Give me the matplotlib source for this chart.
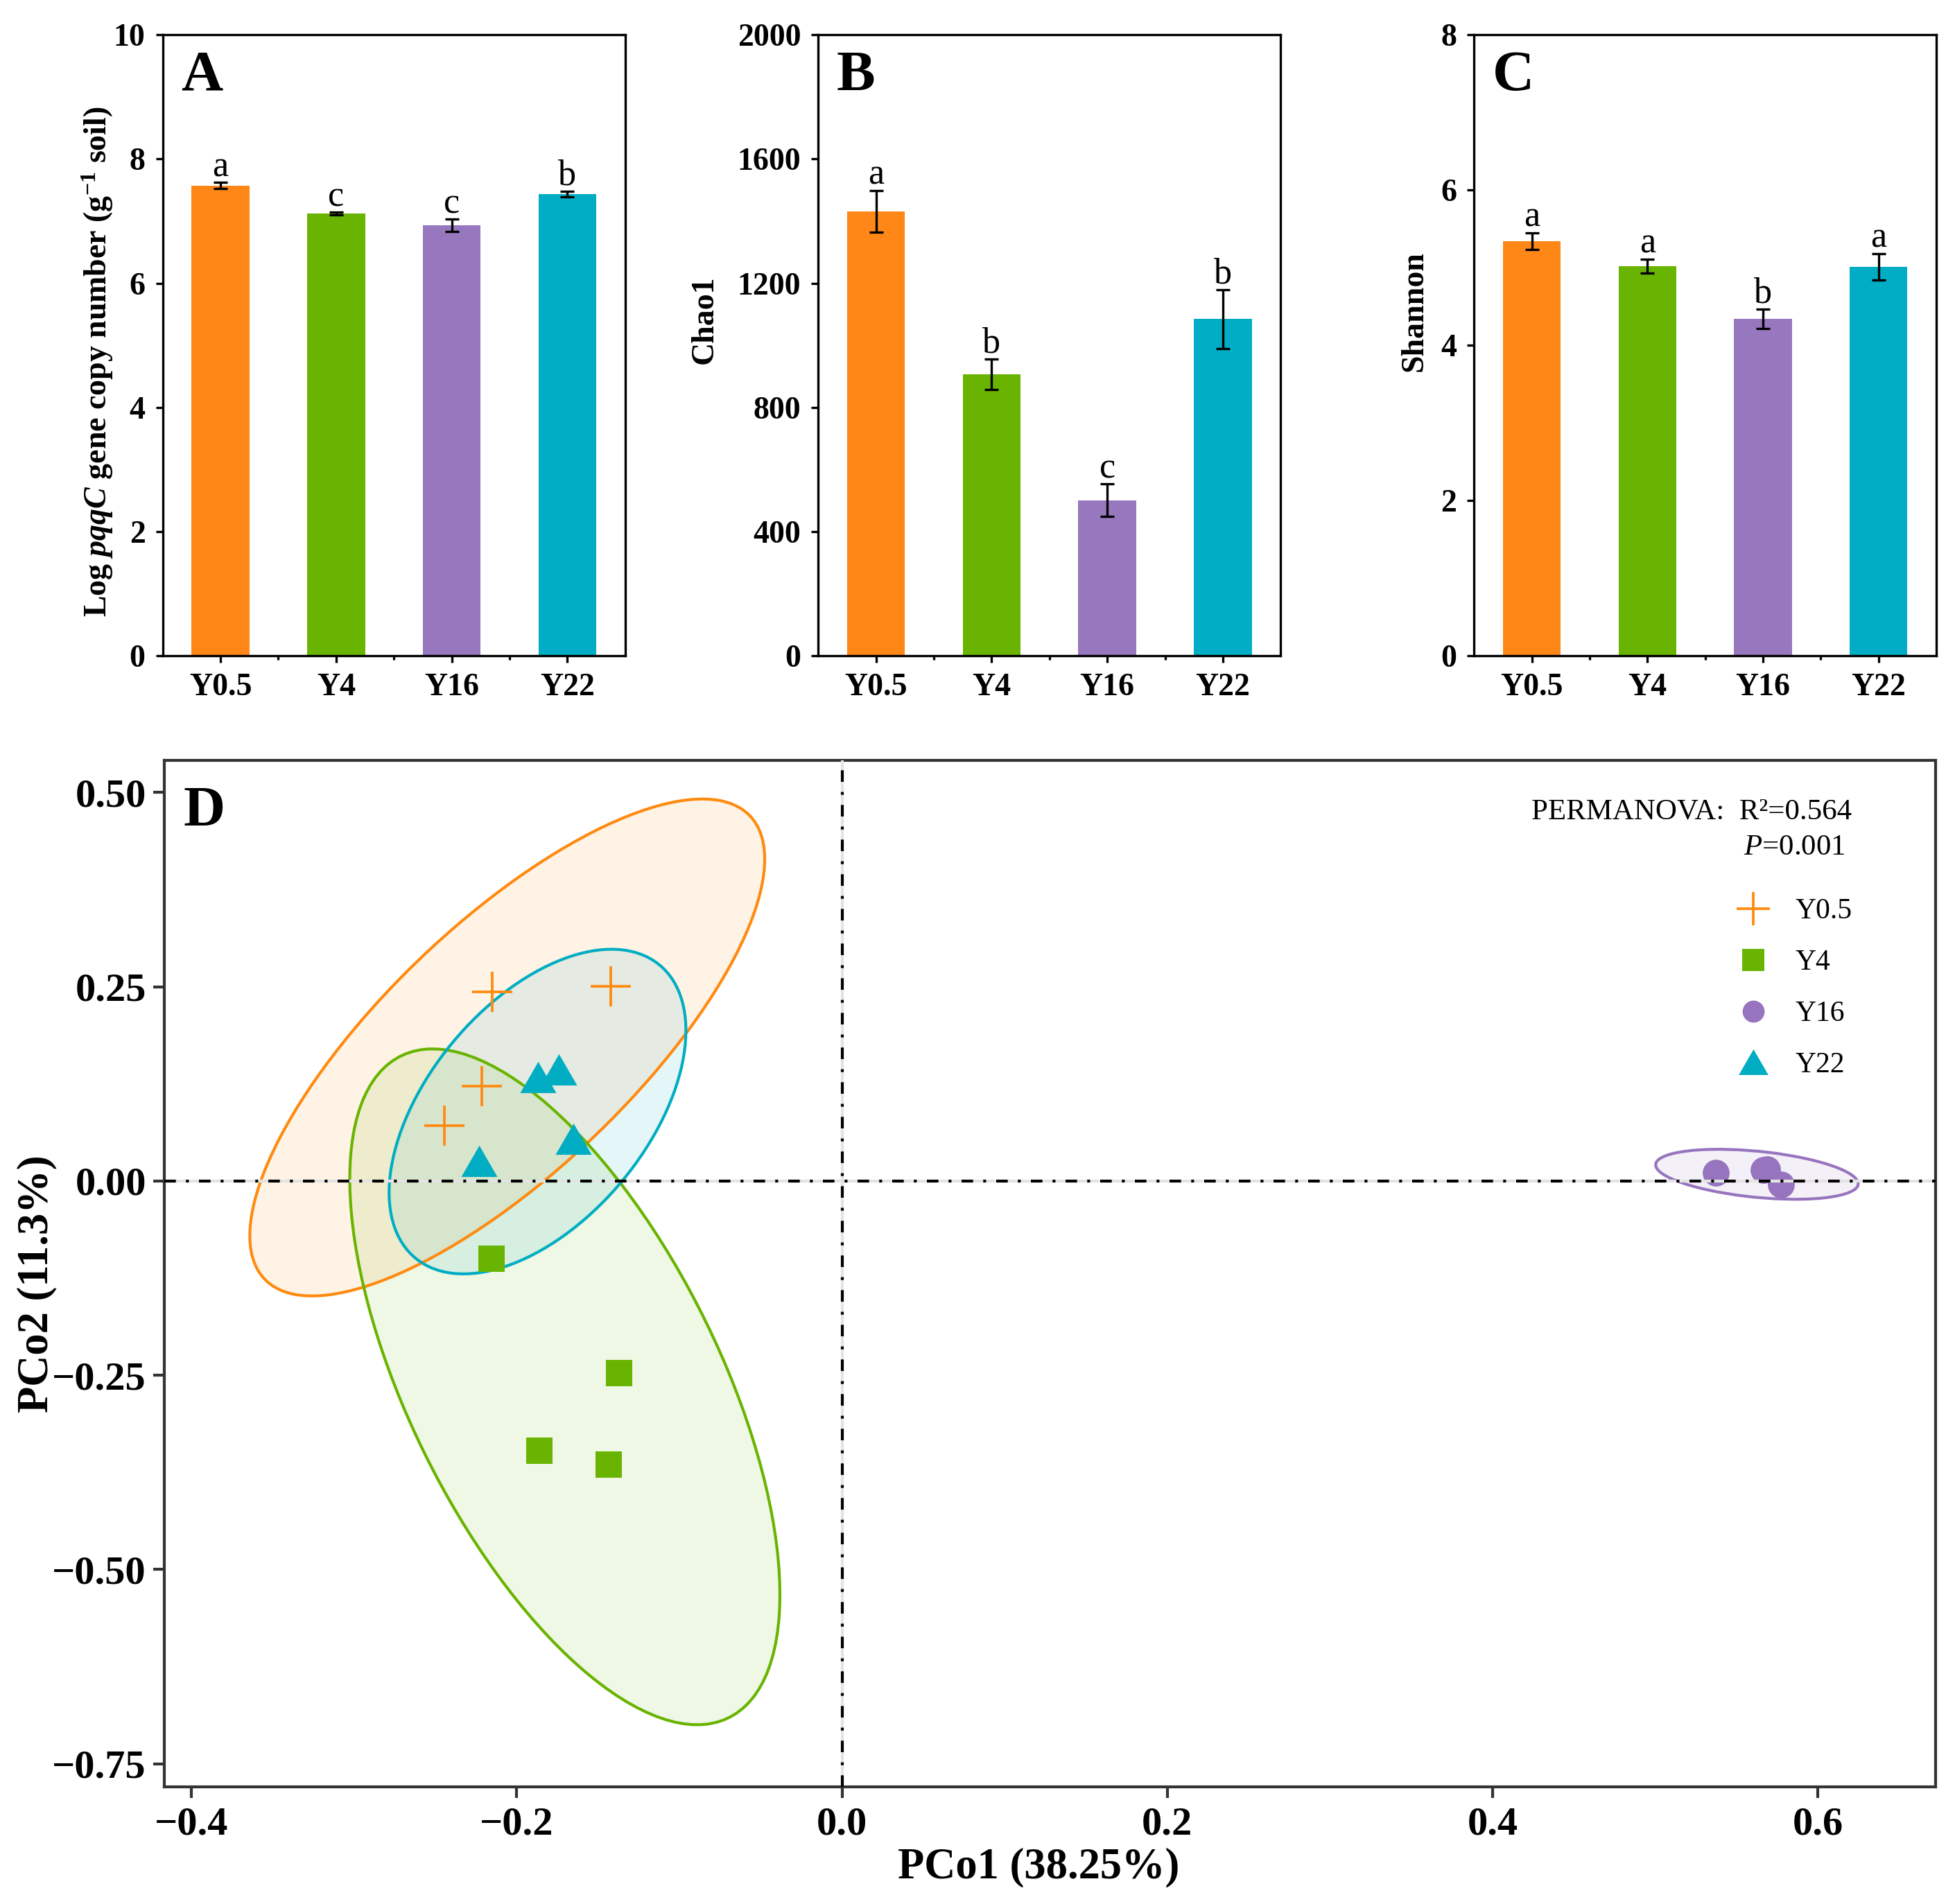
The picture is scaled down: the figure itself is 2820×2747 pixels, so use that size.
import numpy as np
import matplotlib
matplotlib.use("Agg")
import matplotlib.pyplot as plt
from matplotlib.patches import Ellipse
from matplotlib.ticker import FuncFormatter

# Times-like font, also inside math text
plt.rcParams['font.family'] = 'Liberation Serif'
plt.rcParams['mathtext.fontset'] = 'custom'
plt.rcParams['mathtext.rm'] = 'Liberation Serif'
plt.rcParams['mathtext.it'] = 'Liberation Serif:italic'
plt.rcParams['mathtext.bf'] = 'Liberation Serif:bold'
plt.rcParams['mathtext.bfit'] = 'Liberation Serif:bold:italic'

# ------------------------------------------------------------------
# data
# ------------------------------------------------------------------
groups = ['Y0.5', 'Y4', 'Y16', 'Y22']
bar_colors = ['#FF8717', '#69B400', '#9778BF', '#00ADC5']

# A: log pqqC gene copies
pqqc_mean = [7.57, 7.12, 6.93, 7.44]
pqqc_err = [0.05, 0.02, 0.10, 0.045]
pqqc_letters = ['a', 'c', 'c', 'b']

# B: Chao1
chao1_mean = [1432, 907, 501, 1085]
chao1_err = [67, 49, 52, 95]
chao1_letters = ['a', 'b', 'c', 'b']

# C: Shannon
shannon_mean = [5.34, 5.02, 4.34, 5.01]
shannon_err = [0.11, 0.09, 0.125, 0.17]
shannon_letters = ['a', 'a', 'b', 'a']

# D: PCoA scores (PCo1, PCo2) per group
pco1_y05 = [-0.2152, -0.1422, -0.2216, -0.2443]
pco2_y05 = [0.2437, 0.2503, 0.1224, 0.0710]
pco1_y4 = [-0.2153, -0.1372, -0.1859, -0.1433]
pco2_y4 = [-0.1000, -0.2475, -0.3468, -0.3652]
pco1_y16 = [0.5374, 0.5665, 0.5688, 0.5774]
pco2_y16 = [0.0103, 0.0140, 0.0148, -0.0045]
pco1_y22 = [-0.1869, -0.1740, -0.1650, -0.2230]
pco2_y22 = [0.1337, 0.1438, 0.0541, 0.0258]

permanova_r2 = 0.564
permanova_p = 0.001

# ------------------------------------------------------------------
# figure
# ------------------------------------------------------------------
fig = plt.figure(figsize=(9.4, 2747 / 300), dpi=300)


def bar_panel(ax, means, errs, letters, ymax, yticks, ylabel, panel, label_xy):
    x = np.arange(len(groups))
    ax.bar(x, means, width=0.5, color=bar_colors, zorder=2)
    ax.errorbar(x, means, yerr=errs, fmt='none', ecolor='black',
                elinewidth=0.8, capsize=2.5, capthick=0.8, zorder=3)
    # letters over the error bars
    for xi, m, e, l in zip(x, means, errs, letters):
        ax.annotate(l, (xi, m + e), xytext=(0, 2.2), textcoords='offset points',
                    ha='center', va='baseline', fontsize=12.5)

    ax.set_xlim(-0.5, 3.5)
    ax.set_ylim(0, ymax)
    ax.set_yticks(yticks)
    ax.set_xticks(x)
    ax.set_xticklabels(groups)
    ax.set_xticks([0.5, 1.5, 2.5], minor=True)
    ax.tick_params(which='major', direction='out', length=2.5, width=0.8,
                   labelsize=11, pad=3.5)
    ax.tick_params(which='minor', axis='x', direction='out', length=1.5, width=0.8)
    for lab in ax.get_xticklabels() + ax.get_yticklabels():
        lab.set_fontweight('bold')
    for s in ax.spines.values():
        s.set_linewidth(0.8)

    ax.set_ylabel(ylabel, fontsize=11, fontweight='bold', va='center')
    ax.yaxis.set_label_coords(*label_xy)
    ax.text(0.04, 0.975, panel, transform=ax.transAxes, fontsize=20,
            fontweight='bold', ha='left', va='top')


ax_a = fig.add_axes([0.0832, 0.6556, 0.2366, 0.3261])
ax_b = fig.add_axes([0.4185, 0.6556, 0.2366, 0.3261])
ax_c = fig.add_axes([0.7540, 0.6556, 0.2364, 0.3261])

bar_panel(ax_a, pqqc_mean, pqqc_err, pqqc_letters, 10, [0, 2, 4, 6, 8, 10],
          r'Log $\mathbfit{pqqC}$ gene copy number (g$^{\mathbf{-1}}$ soil)',
          'A', (-0.141, 0.474))
bar_panel(ax_b, chao1_mean, chao1_err, chao1_letters, 2000,
          [0, 400, 800, 1200, 1600, 2000], 'Chao1', 'B', (-0.245, 0.541))
bar_panel(ax_c, shannon_mean, shannon_err, shannon_letters, 8,
          [0, 2, 4, 6, 8], 'Shannon', 'C', (-0.128, 0.555))

# ------------------------------------------------------------------
# D: PCoA
# ------------------------------------------------------------------
ax_d = fig.add_axes([0.0842, 0.0616, 0.9059, 0.5392])

# scale of the covariance ellipses
ELLIPSE_K = 3.58


def conf_ellipse(x, y, k, color):
    cov = np.cov(x, y)
    vals, vecs = np.linalg.eigh(cov)
    order = vals.argsort()[::-1]
    vals, vecs = vals[order], vecs[:, order]
    angle = np.degrees(np.arctan2(vecs[1, 0], vecs[0, 0]))
    w, h = 2 * k * np.sqrt(vals)
    fill = Ellipse((np.mean(x), np.mean(y)), w, h, angle=angle,
                   facecolor=color, alpha=0.1, edgecolor='none', zorder=1)
    edge = Ellipse((np.mean(x), np.mean(y)), w, h, angle=angle,
                   facecolor='none', edgecolor=color, linewidth=1.0, zorder=2)
    return fill, edge


pcoa = [
    (pco1_y05, pco2_y05, '#FF8A10', '+', 14, 'Y0.5'),
    (pco1_y4, pco2_y4, '#69B400', 's', 9.3, 'Y4'),
    (pco1_y16, pco2_y16, '#9775BE', 'o', 9.3, 'Y16'),
    (pco1_y22, pco2_y22, '#00ADC2',
     [(0, 0.433), (-0.5, -0.433), (0.5, -0.433)], 12.5, 'Y22'),
]

for px, py, col, mk, ms, name in pcoa:
    fill, edge = conf_ellipse(np.array(px), np.array(py), ELLIPSE_K, col)
    ax_d.add_patch(fill)
    ax_d.add_patch(edge)

handles = []
for px, py, col, mk, ms, name in pcoa:
    if mk == '+':
        h, = ax_d.plot(px, py, linestyle='none', marker=mk, markersize=ms,
                       markeredgewidth=0.9, color=col, label=name, zorder=4)
    else:
        h, = ax_d.plot(px, py, linestyle='none', marker=mk, markersize=ms,
                       markeredgewidth=0, color=col, label=name, zorder=4)
    handles.append(h)

# dash-dot zero lines on a faint grey line
for fn in (ax_d.axhline, ax_d.axvline):
    fn(0, color='#e3e3e3', linewidth=1.0, zorder=5)
    fn(0, color='black', linewidth=1.0, dashes=(4, 3.5, 1, 3.5), zorder=6)

ax_d.set_xlim(-0.4165, 0.6724)
ax_d.set_ylim(-0.7795, 0.5417)
ax_d.set_xticks([-0.4, -0.2, 0.0, 0.2, 0.4, 0.6])
ax_d.set_yticks([-0.75, -0.5, -0.25, 0.0, 0.25, 0.5])
ax_d.xaxis.set_major_formatter(FuncFormatter(lambda v, p: f'{v:.1f}'.replace('-', '\u2212')))
ax_d.yaxis.set_major_formatter(FuncFormatter(lambda v, p: f'{v:.2f}'.replace('-', '\u2212')))
ax_d.tick_params(direction='out', length=3.8, width=1.0, labelsize=14,
                 color='#333333')
ax_d.tick_params(axis='x', pad=3.1)
ax_d.tick_params(axis='y', pad=2.6)
for lab in ax_d.get_xticklabels() + ax_d.get_yticklabels():
    lab.set_fontweight('bold')
for s in ax_d.spines.values():
    s.set_linewidth(1.0)
    s.set_color('#333333')

ax_d.set_xlabel('PCo1 (38.25%)', fontsize=15, fontweight='bold', va='center')
ax_d.xaxis.set_label_coords(0.4934, -0.079)
ax_d.set_ylabel('PCo2 (11.3%)', fontsize=15, fontweight='bold', va='center')
ax_d.yaxis.set_label_coords(-0.0721, 0.49)

ax_d.text(0.0104, 0.975, 'D', transform=ax_d.transAxes, fontsize=20,
          fontweight='bold', ha='left', va='top')

ax_d.text(0.7716, 0.9496, f'PERMANOVA:  R\u00b2={permanova_r2:.3f}',
          transform=ax_d.transAxes, fontsize=10.3, ha='left', va='center')
ax_d.text(0.8917, 0.9146, r'$\mathit{P}$' + f'={permanova_p:.3f}',
          transform=ax_d.transAxes, fontsize=10.3, ha='left', va='center')

ax_d.legend(handles=handles, loc='upper left', bbox_to_anchor=(0.8889, 0.8655),
            frameon=False, fontsize=10, markerscale=0.82, handlelength=1.0,
            handletextpad=0.96, labelspacing=0.85, borderpad=0, borderaxespad=0)

fig.savefig('out.png', dpi=300)
